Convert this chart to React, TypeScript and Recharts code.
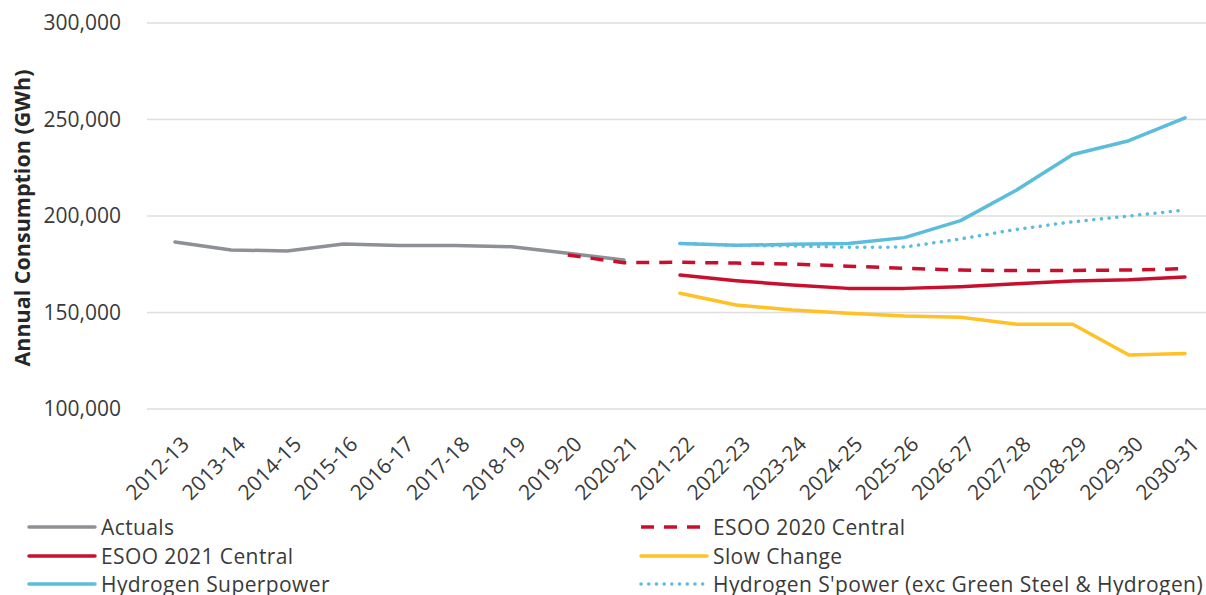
import React from 'react';
import { LineChart, Line, XAxis, YAxis, CartesianGrid, Legend } from 'recharts';

const years = [
  '2012-13', '2013-14', '2014-15', '2015-16', '2016-17', '2017-18', '2018-19',
  '2019-20', '2020-21', '2021-22', '2022-23', '2023-24', '2024-25', '2025-26',
  '2026-27', '2027-28', '2028-29', '2029-30', '2030-31',
];

const actuals = [186500, 182400, 181900, 185500, 184700, 184700, 184100, 180700, 177200, null, null, null, null, null, null, null, null, null, null];
const esoo2020 = [null, null, null, null, null, null, null, 179800, 175800, 176000, 175600, 175100, 174000, 172900, 172000, 171700, 171800, 172000, 172700];
const esoo2021 = [null, null, null, null, null, null, null, null, null, 169400, 166500, 164200, 162500, 162500, 163400, 164900, 166300, 167000, 168400];
const slowChange = [null, null, null, null, null, null, null, null, null, 160000, 153900, 151300, 149600, 148200, 147500, 143900, 143900, 128000, 128700];
const h2Superpower = [null, null, null, null, null, null, null, null, null, 185800, 184800, 185300, 185700, 188800, 197600, 213500, 231900, 239000, 250900];
const h2ExcSteel = [null, null, null, null, null, null, null, null, null, 185800, 184800, 184500, 183800, 183900, 188100, 193100, 197000, 200000, 203100];

const yTicks = [100000, 150000, 200000, 250000, 300000];

const data = years.map((year, i) => ({
  year,
  actuals: actuals[i],
  esoo2020: esoo2020[i],
  esoo2021: esoo2021[i],
  slowChange: slowChange[i],
  h2Superpower: h2Superpower[i],
  h2ExcSteel: h2ExcSteel[i],
}));

const GREY = '#8d9094';
const RED = '#c8102e';
const YELLOW = '#ffc125';
const BLUE = '#5bbcdc';
const TEXT = '#3a3a3a';
const FONT = '"Open Sans", "Noto Sans", sans-serif';

const legendItems = [
  { name: 'Actuals', color: GREY, dash: undefined, cap: 'round', col: 0, row: 0 },
  { name: 'ESOO 2020 Central', color: RED, dash: '13 10', cap: 'butt', col: 1, row: 0 },
  { name: 'ESOO 2021 Central', color: RED, dash: undefined, cap: 'round', col: 0, row: 1 },
  { name: 'Slow Change', color: YELLOW, dash: undefined, cap: 'round', col: 1, row: 1 },
  { name: 'Hydrogen Superpower', color: BLUE, dash: undefined, cap: 'round', col: 0, row: 2 },
  { name: "Hydrogen S'power (exc Green Steel & Hydrogen)", color: BLUE, dash: '0.1 7.6', cap: 'round', col: 1, row: 2 },
];

const renderLegend = () => (
  <div style={{ position: 'relative', width: 1206, height: 84, fontFamily: FONT }}>
    {legendItems.map((item) => (
      <div
        key={item.name}
        style={{
          position: 'absolute',
          left: item.col === 0 ? 26 : 638,
          top: 2 + item.row * 28.5,
          height: 28,
          display: 'flex',
          alignItems: 'center',
          whiteSpace: 'nowrap',
        }}
      >
        <svg width={72} height={10}>
          <line
            x1={3}
            x2={69}
            y1={5}
            y2={5}
            stroke={item.color}
            strokeWidth={3.5}
            strokeDasharray={item.dash}
            strokeLinecap={item.cap as any}
          />
        </svg>
        <span style={{ fontSize: 21, letterSpacing: 0.4, color: TEXT, marginLeft: 3, lineHeight: '28px' }}>{item.name}</span>
      </div>
    ))}
  </div>
);

const YearTick = ({ x, y, payload }: any) => (
  <g transform={`translate(${x + 5},${y + 18})`}>
    <text
      textAnchor="end"
      transform="rotate(-45)"
      dy="0.71em"
      fontSize={21}
      fill={TEXT}
      fontFamily={FONT}
    >
      {payload.value}
    </text>
  </g>
);

const YTitle = ({ viewBox }: any) => {
  const cx = 21;
  const cy = viewBox.y + viewBox.height / 2 + 2;
  return (
    <text
      x={cx}
      y={cy}
      transform={`rotate(-90, ${cx}, ${cy})`}
      textAnchor="middle"
      dominantBaseline="central"
      fontSize={21.5}
      fontWeight={700}
      fill="#262626"
      fontFamily={FONT}
    >
      Annual Consumption (GWh)
    </text>
  );
};

export default function App() {
  return (
    <div style={{ position: 'absolute', left: 0, top: 0, width: 1206, height: 595, background: '#fff' }}>
      <LineChart width={1206} height={595} data={data} margin={{ top: 23, right: 0, left: 0, bottom: 0 }}>
        <CartesianGrid vertical={false} stroke="#dedede" strokeWidth={1.3} />
        <XAxis
          dataKey="year"
          axisLine={false}
          tickLine={false}
          interval={0}
          height={102}
          padding={{ left: 28, right: 21 }}
          tick={<YearTick />}
        />
        <YAxis
          width={147}
          domain={[100000, 300000]}
          ticks={yTicks}
          axisLine={false}
          tickLine={false}
          tickMargin={20}
          tickFormatter={(v: number) => v.toLocaleString('en-US')}
          tick={{ fontSize: 21, fill: TEXT, fontFamily: FONT }}
          label={<YTitle />}
        />
        <Legend verticalAlign="bottom" align="left" content={renderLegend} wrapperStyle={{ left: 0, width: 1206, height: 84 }} />
        <Line dataKey="actuals" stroke={GREY} strokeWidth={3.5} dot={false} activeDot={false} isAnimationActive={false} strokeLinecap="round" strokeLinejoin="round" />
        <Line dataKey="esoo2020" stroke={RED} strokeWidth={3.5} strokeDasharray="13 10" dot={false} activeDot={false} isAnimationActive={false} />
        <Line dataKey="esoo2021" stroke={RED} strokeWidth={3.5} dot={false} activeDot={false} isAnimationActive={false} strokeLinecap="round" strokeLinejoin="round" />
        <Line dataKey="slowChange" stroke={YELLOW} strokeWidth={3.5} dot={false} activeDot={false} isAnimationActive={false} strokeLinecap="round" strokeLinejoin="round" />
        <Line dataKey="h2ExcSteel" stroke={BLUE} strokeWidth={3.5} strokeDasharray="0.1 7.6" strokeLinecap="round" dot={false} activeDot={false} isAnimationActive={false} />
        <Line dataKey="h2Superpower" stroke={BLUE} strokeWidth={3.5} dot={false} activeDot={false} isAnimationActive={false} strokeLinecap="round" strokeLinejoin="round" />
      </LineChart>
    </div>
  );
}
